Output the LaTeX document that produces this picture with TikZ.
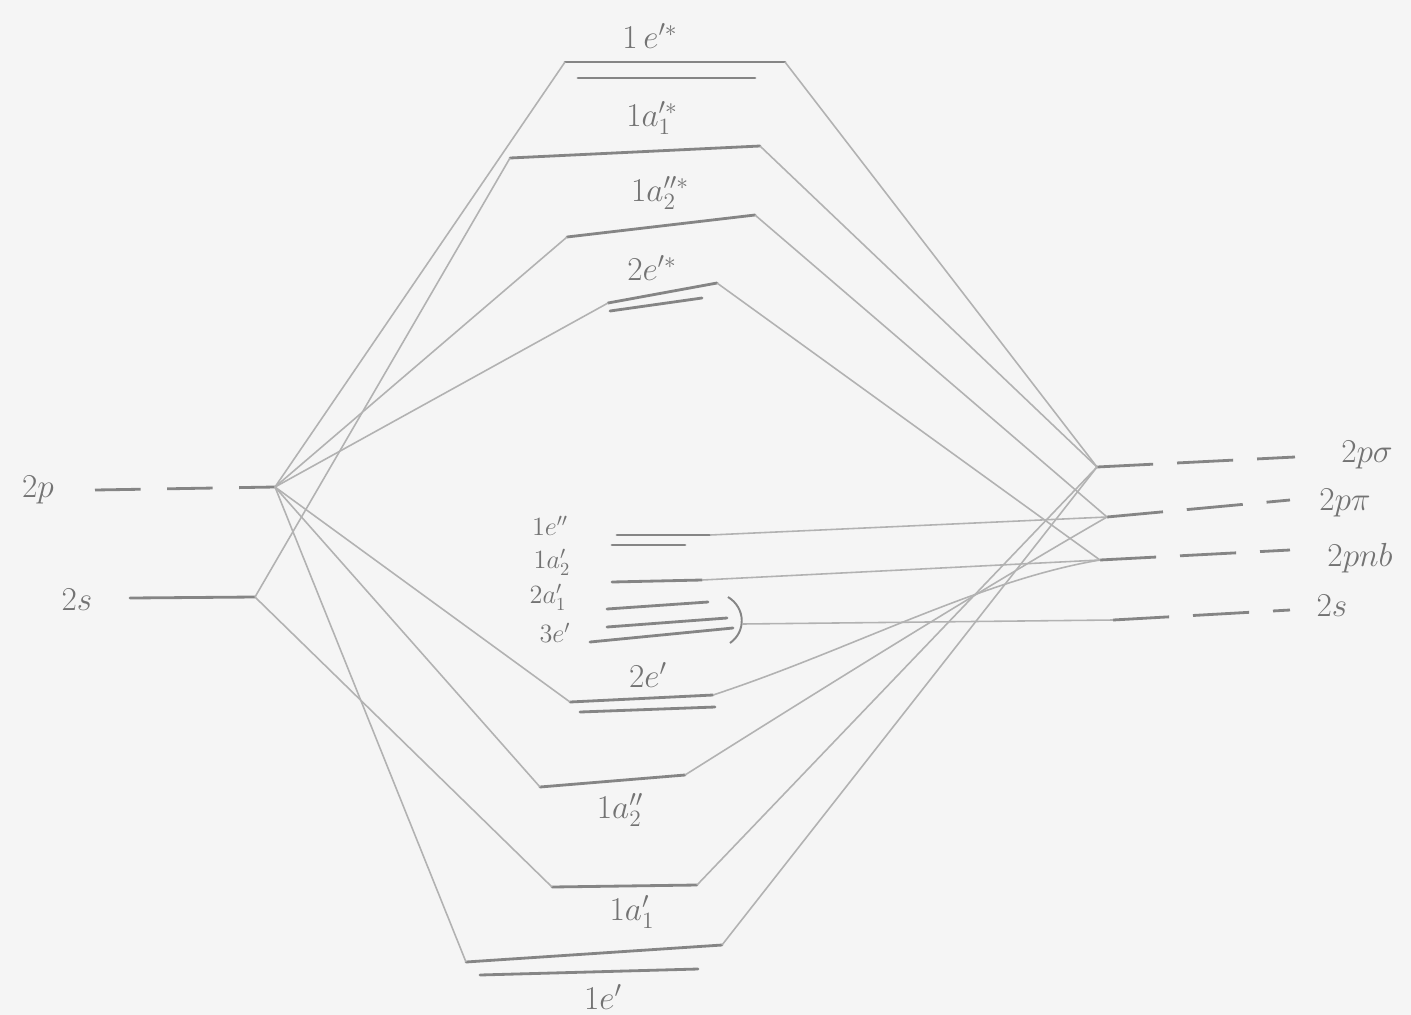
\RequirePackage{fix-cm}
\documentclass[tikz,border=0pt]{standalone}
\begin{document}
\begin{tikzpicture}[x=0.02cm,y=-0.02cm,
  mo/.style={draw=black!48, line width=1.6pt, line cap=round},
  ao/.style={draw=black!48, line width=1.6pt, dash pattern=on 26pt off 15pt},
  lg/.style={draw=black!48, line width=1.6pt, dash pattern=on 32pt off 13.6pt},
  link/.style={draw=black!30, line width=0.9pt},
  lbl/.style={text=black!55, font=\fontsize{19}{21}\selectfont, inner sep=1pt},
  small/.style={font=\fontsize{15}{17}\selectfont, inner sep=0pt}]
\fill[black!4] (0,0) rectangle (1411,1015);
\useasboundingbox (0,0) rectangle (1411,1015);
\draw[ao] (95,490) -- (275,487) coordinate (p2);
\draw[mo] (130,598) -- (255,597) coordinate (s2);
\node[lbl] (t-p2) at (38,490) {$2p$};
\node[lbl] (t-s2) at (77,600) {$2s$};
\draw[mo] (565,62) coordinate (e1s-l) -- (785,62) coordinate (e1s-r);
\draw[mo] (578,78) -- (755,78);
\draw[mo] (510,158) coordinate (a1s-l) -- (760,146) coordinate (a1s-r);
\draw[mo] (567,237) coordinate (a2s-l) -- (755,215) coordinate (a2s-r);
\draw[mo] (608,303) coordinate (e2s-l) -- (717,283) coordinate (e2s-r);
\draw[mo] (610,311) -- (702,298);
\draw[mo] (617,535) -- (710,535) coordinate (e1pp-r);
\draw[mo] (612,545) -- (685,545);
\draw[mo] (612,582) -- (702,580) coordinate (a2p-r);
\draw[mo] (607,609) -- (708,602);
\draw[mo] (607,627) -- (727,618);
\draw[mo] (590,642) -- (733,628);
\draw[link, draw=black!48, line width=1.1pt] (728,597) .. controls (746,608) and (746,632) .. (730,643);
\coordinate (brk) at (742,624);
\draw[mo] (570,702) coordinate (e2p-l) -- (713,695) coordinate (e2p-r);
\draw[mo] (580,712) -- (715,707);
\draw[mo] (540,787) coordinate (a2pp-l) -- (685,775) coordinate (a2pp-r);
\draw[mo] (552,887) coordinate (a1p-l) -- (697,885) coordinate (a1p-r);
\draw[mo] (466,962) coordinate (e1p-l) -- (722,945) coordinate (e1p-r);
\draw[mo] (480,975) -- (698,969);
\node[lbl] (t-e1s) at (650,36) {$1\,e'^{*}$};
\node[lbl] (t-a1s) at (652,118) {$1a_1'^{*}$};
\node[lbl] (t-a2s) at (660,193) {$1a_2''^{*}$};
\node[lbl] (t-e2s) at (652,268) {$2e'^{*}$};
\node[lbl, small] (t-e1pp) at (550,526) {$1e''$};
\node[lbl, small] (t-a2p) at (552,562) {$1a_2'$};
\node[lbl, small] (t-a1p2) at (548,597) {$2a_1'$};
\node[lbl, small] (t-e3p) at (555,633) {$3e'$};
\node[lbl] (t-e2p) at (648,675) {$2e'$};
\node[lbl] (t-a2pp) at (620,810) {$1a_2''$};
\node[lbl] (t-a1p) at (632,912) {$1a_1'$};
\node[lbl] (t-e1p) at (603,997) {$1e'$};
\draw[lg] (1097,467) coordinate (Lsig) -- (1295,457);
\draw[lg] (1107,517) coordinate (Lpi) -- (1290,500);
\draw[lg] (1100,560) coordinate (Lnb) -- (1290,550);
\draw[lg] (1113,620) coordinate (Ls) -- (1290,610);
\node[lbl] (t-Lsig) at (1367,455) {$2p\sigma$};
\node[lbl] (t-Lpi) at (1345,503) {$2p\pi$};
\node[lbl] (t-Lnb) at (1360,558) {$2pnb$};
\node[lbl] (t-Ls) at (1332,606) {$2s$};
\draw[link] (p2) -- (e1s-l);
\draw[link] (p2) -- (a2s-l);
\draw[link] (p2) -- (e2s-l);
\draw[link] (p2) -- (e2p-l);
\draw[link] (p2) -- (a2pp-l);
\draw[link] (p2) -- (e1p-l);
\draw[link] (s2) -- (a1s-l);
\draw[link] (s2) -- (a1p-l);
\draw[link] (e1s-r) -- (Lsig);
\draw[link] (a1s-r) -- (Lsig);
\draw[link] (a2s-r) -- (Lpi);
\draw[link] (e2s-r) -- (Lnb);
\draw[link] (e1pp-r) -- (Lpi);
\draw[link] (a2p-r) -- (Lnb);
\draw[link] (brk) -- (Ls);
\draw[link] (e2p-r) .. controls (850,650) and (980,580) .. (Lnb);
\draw[link] (a2pp-r) .. controls (820,690) and (980,590) .. (Lpi);
\draw[link] (a1p-r) -- (Lsig);
\draw[link] (e1p-r) -- (Lsig);
\end{tikzpicture}
\end{document}
